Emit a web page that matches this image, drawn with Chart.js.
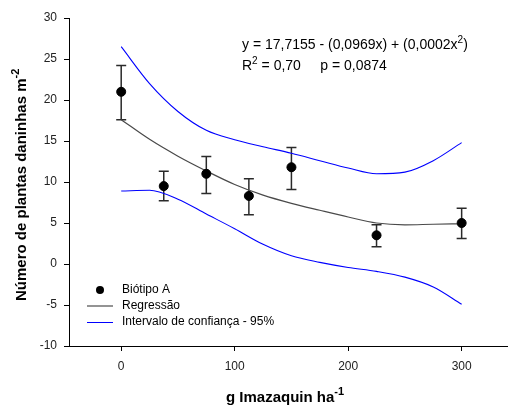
<!DOCTYPE html>
<html>
<head>
<meta charset="utf-8">
<script src="https://cdn.jsdelivr.net/npm/chart.js@4/dist/chart.umd.min.js"></script>
<style>
  html, body { margin: 0; padding: 0; background: #fff; }
  canvas { display: block; }
</style>
</head>
<body>
<canvas id="grafico" width="508" height="405"></canvas>
<script>
// Observed points (Biótipo A) with error bars
const doses = [0, 37.5, 75, 112.5, 150, 225, 300];
const biotipoA = [21, 9.5, 11, 8.3, 11.8, 3.5, 5];
const errLow = [17.6, 7.7, 8.6, 6.0, 9.1, 2.1, 3.1];
const errHigh = [24.2, 11.3, 13.1, 10.4, 14.2, 4.8, 6.8];

// Fitted curve and 95% confidence band
const curveX = [0, 25, 50, 75, 100, 125, 150, 175, 200, 225, 250, 275, 300];
const regressao = [17.6, 15.2, 13.15, 11.35, 9.7, 8.4, 7.4, 6.55, 5.73, 5.0, 4.78, 4.85, 4.9];
const icSup = [26.5, 22.0, 18.6, 16.3, 15.15, 14.3, 13.5, 12.6, 11.7, 11.0, 11.2, 12.6, 14.8];
const icInf = [8.9, 9.0, 7.9, 6.1, 4.3, 2.4, 1.0, 0.2, -0.42, -0.9, -1.6, -2.8, -4.9];

const xTicks = [0, 100, 200, 300];
const legendLabels = ['Biótipo A', 'Regressão', 'Intervalo de confiança - 95%'];

const toXY = (xs, ys) => xs.map((x, i) => ({ x: x, y: ys[i] }));

const errorBars = {
    id: 'errorBars',
    beforeDatasetsDraw(chart) {
        const { ctx, scales: { x, y } } = chart;
        ctx.save();
        ctx.strokeStyle = '#2a2a2a';
        ctx.lineWidth = 1.5;
        doses.forEach((d, i) => {
            const px = x.getPixelForValue(d);
            const lo = y.getPixelForValue(errLow[i]);
            const hi = y.getPixelForValue(errHigh[i]);
            ctx.beginPath();
            ctx.moveTo(px, lo); ctx.lineTo(px, hi);
            ctx.moveTo(px - 5, lo); ctx.lineTo(px + 5, lo);
            ctx.moveTo(px - 5, hi); ctx.lineTo(px + 5, hi);
            ctx.stroke();
        });
        ctx.restore();
    }
};

const annotations = {
    id: 'annotations',
    afterDraw(chart) {
        const ctx = chart.ctx;
        const area = chart.chartArea;
        ctx.save();

        // x axis line runs on to the edge of the picture
        ctx.strokeStyle = '#000';
        ctx.lineWidth = 1;
        ctx.beginPath();
        ctx.moveTo(area.right - 1, Math.round(area.bottom) + 0.5);
        ctx.lineTo(chart.width, Math.round(area.bottom) + 0.5);
        ctx.stroke();

        ctx.fillStyle = '#000';
        ctx.textBaseline = 'alphabetic';
        ctx.textAlign = 'left';

        // equation
        let f = '14px "Liberation Sans", Arial, sans-serif';
        let fs = '10px "Liberation Sans", Arial, sans-serif';
        let cx = 242;
        ctx.font = f;
        const eq1 = 'y = 17,7155 - (0,0969x) + (0,0002x';
        ctx.fillText(eq1, cx, 49);
        cx += ctx.measureText(eq1).width;
        ctx.font = fs;
        ctx.fillText('2', cx, 43);
        cx += ctx.measureText('2').width;
        ctx.font = f;
        ctx.fillText(')', cx, 49);

        cx = 242;
        ctx.fillText('R', cx, 70);
        cx += ctx.measureText('R').width;
        ctx.font = fs;
        ctx.fillText('2', cx, 64);
        cx += ctx.measureText('2').width;
        ctx.font = f;
        ctx.fillText(' = 0,70     p = 0,0874', cx, 70);

        // legend
        ctx.font = '12px "Liberation Sans", Arial, sans-serif';
        ctx.textBaseline = 'middle';
        const ly = [290, 306, 322];
        ctx.beginPath();
        ctx.arc(100, ly[0], 4, 0, Math.PI * 2);
        ctx.fill();
        ctx.lineWidth = 1.5;
        ctx.strokeStyle = '#707070';
        ctx.beginPath(); ctx.moveTo(87, ly[1]); ctx.lineTo(113, ly[1]); ctx.stroke();
        ctx.lineWidth = 1;
        ctx.strokeStyle = '#0000ff';
        ctx.beginPath(); ctx.moveTo(87, ly[2] + 0.5); ctx.lineTo(113, ly[2] + 0.5); ctx.stroke();
        legendLabels.forEach((t, i) => ctx.fillText(t, 122, ly[i]));

        // x axis title
        ctx.textBaseline = 'alphabetic';
        const tb = 'bold 15px "Liberation Sans", Arial, sans-serif';
        const tbs = 'bold 11px "Liberation Sans", Arial, sans-serif';
        ctx.font = tb;
        const xt = 'g Imazaquin ha';
        ctx.fillText(xt, 226, 402);
        const xw = ctx.measureText(xt).width;
        ctx.font = tbs;
        ctx.fillText('-1', 226 + xw, 395);

        // y axis title
        ctx.translate(26, 301);
        ctx.rotate(-Math.PI / 2);
        ctx.font = tb;
        const yt = 'Número de plantas daninhas m';
        ctx.fillText(yt, 0, 0);
        const yw = ctx.measureText(yt).width;
        ctx.font = tbs;
        ctx.fillText('-2', yw, -7);
        ctx.restore();
    }
};

const axisCommon = {
    border: { display: true, color: '#000', width: 1 },
    grid: { drawOnChartArea: false, drawTicks: true, tickLength: 5, color: '#000' },
    ticks: { color: '#222', font: { family: '"Liberation Sans", Arial, sans-serif', size: 12 } }
};

const curveStyle = { pointRadius: 0, showLine: true, cubicInterpolationMode: 'monotone' };

new Chart(document.getElementById('grafico'), {
    type: 'scatter',
    data: {
        datasets: [
            {
                label: legendLabels[0],
                data: toXY(doses, biotipoA),
                backgroundColor: '#000',
                borderColor: '#000',
                pointRadius: 4.5,
                showLine: false
            },
            Object.assign({
                label: legendLabels[1],
                data: toXY(curveX, regressao),
                borderColor: '#4a4a4a',
                borderWidth: 1.2
            }, curveStyle),
            Object.assign({
                label: legendLabels[2],
                data: toXY(curveX, icSup),
                borderColor: '#0000ff',
                borderWidth: 1.1
            }, curveStyle),
            Object.assign({
                label: legendLabels[2],
                data: toXY(curveX, icInf),
                borderColor: '#0000ff',
                borderWidth: 1.1
            }, curveStyle)
        ]
    },
    options: {
        responsive: false,
        animation: false,
        layout: { padding: { top: 18, right: 0, bottom: 0, left: 0 } },
        plugins: { legend: { display: false }, tooltip: { enabled: false } },
        scales: {
            x: {
                type: 'linear',
                min: -46,
                max: 336,
                border: axisCommon.border,
                grid: axisCommon.grid,
                ticks: Object.assign({}, axisCommon.ticks, { padding: 8 }),
                afterBuildTicks: s => { s.ticks = xTicks.map(v => ({ value: v })); },
                afterFit: s => { s.height = 59; }
            },
            y: {
                min: -10,
                max: 30,
                border: axisCommon.border,
                grid: axisCommon.grid,
                ticks: Object.assign({}, axisCommon.ticks, { stepSize: 5, padding: 7 }),
                afterFit: s => { s.width = 69; }
            }
        }
    },
    plugins: [errorBars, annotations]
});
</script>
</body>
</html>
